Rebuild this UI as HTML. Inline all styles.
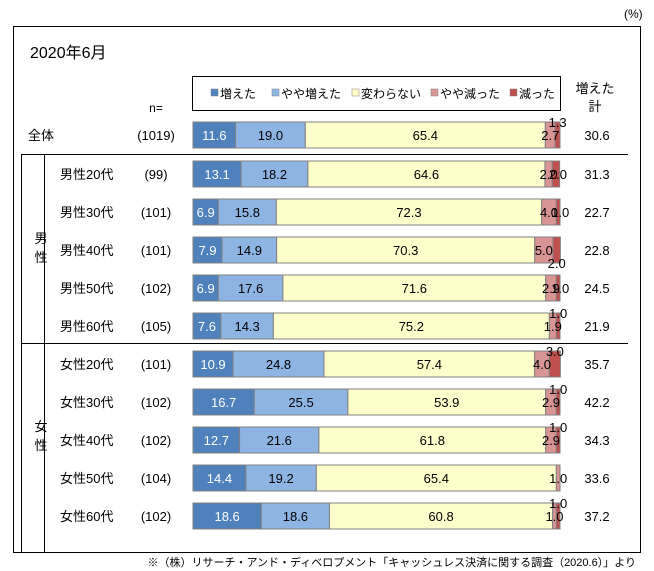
<!DOCTYPE html>
<html><head><meta charset="utf-8">
<style>
html,body{margin:0;padding:0;background:#fff;}
svg{display:block;font-family:"Liberation Sans","Noto Sans CJK JP",sans-serif;}
</style></head>
<body>
<svg id="s" width="654" height="571" xmlns="http://www.w3.org/2000/svg">
<text x="624" y="18" font-size="12" fill="#000">(%)</text>
<rect x="13.5" y="26.5" width="627" height="526" fill="none" stroke="#000" stroke-width="1"/>
<text x="30" y="58" font-size="16" fill="#000">2020年6月</text>
<rect x="192.5" y="76.5" width="368" height="34" fill="none" stroke="#000"/>
<rect x="211" y="89" width="7" height="7" fill="#4f81bd" stroke="#808080" stroke-width="0.5"/>
<text x="220" y="98" font-size="12">増えた</text>
<rect x="272" y="89" width="7" height="7" fill="#8eb4e3" stroke="#808080" stroke-width="0.5"/>
<text x="281" y="98" font-size="12">やや増えた</text>
<rect x="352" y="89" width="7" height="7" fill="#ffffcc" stroke="#808080" stroke-width="0.5"/>
<text x="361" y="98" font-size="12">変わらない</text>
<rect x="431" y="89" width="7" height="7" fill="#d99594" stroke="#808080" stroke-width="0.5"/>
<text x="440" y="98" font-size="12">やや減った</text>
<rect x="510" y="89" width="7" height="7" fill="#c0504d" stroke="#808080" stroke-width="0.5"/>
<text x="519" y="98" font-size="12">減った</text>
<text x="595" y="93" font-size="13" text-anchor="middle">増えた</text>
<text x="595" y="111" font-size="13" text-anchor="middle">計</text>
<text x="156" y="112" font-size="12" text-anchor="middle">n=</text>
<line x1="21" y1="154.5" x2="628" y2="154.5" stroke="#000"/>
<line x1="21" y1="343.5" x2="628" y2="343.5" stroke="#000"/>
<line x1="21.5" y1="154" x2="21.5" y2="552" stroke="#000"/>
<line x1="44.5" y1="154" x2="44.5" y2="552" stroke="#000"/>
<text x="41" y="243" font-size="13" text-anchor="middle">男</text>
<text x="41" y="262" font-size="13" text-anchor="middle">性</text>
<text x="41" y="431" font-size="13" text-anchor="middle">女</text>
<text x="41" y="450" font-size="13" text-anchor="middle">性</text>
<text x="636" y="566" font-size="11" text-anchor="end">※（株）リサーチ・アンド・ディベロプメント「キャッシュレス決済に関する調査（2020.6）」より</text>
</svg>
<script>
var s=document.getElementById('s'),NS='http://www.w3.org/2000/svg';
function el(t,a,txt){var e=document.createElementNS(NS,t);for(var k in a)e.setAttribute(k,a[k]);if(txt!=null)e.textContent=txt;s.appendChild(e);return e;}
var cols=['#4f81bd','#8eb4e3','#ffffcc','#d99594','#c0504d'];
var rows=[
['全体',28,'(1019)',[11.6,19.0,65.4,2.7,1.3],'30.6','up'],
['男性20代',60,'(99)',[13.1,18.2,64.6,2.0,2.0],'31.3','in'],
['男性30代',60,'(101)',[6.9,15.8,72.3,4.0,1.0],'22.7','in'],
['男性40代',60,'(101)',[7.9,14.9,70.3,5.0,2.0],'22.8','down'],
['男性50代',60,'(102)',[6.9,17.6,71.6,2.9,1.0],'24.5','in'],
['男性60代',60,'(105)',[7.6,14.3,75.2,1.9,1.0],'21.9','up'],
['女性20代',60,'(101)',[10.9,24.8,57.4,4.0,3.0],'35.7','up'],
['女性30代',60,'(102)',[16.7,25.5,53.9,2.9,1.0],'42.2','up'],
['女性40代',60,'(102)',[12.7,21.6,61.8,2.9,1.0],'34.3','up'],
['女性50代',60,'(104)',[14.4,19.2,65.4,1.0,0],'33.6','none'],
['女性60代',60,'(102)',[18.6,18.6,60.8,1.0,1.0],'37.2','up']
];
var ys=[135,174,212,250,288,326,364,402,440,478,516];
var X0=193,SC=3.67,H=26;
rows.forEach(function(r,i){
 var cy=ys[i];
 el('text',{x:r[1],y:cy+5,'font-size':13},r[0]);
 el('text',{x:156,y:cy+5,'font-size':13,'text-anchor':'middle'},r[2]);
 el('text',{x:597,y:cy+5,'font-size':13,'text-anchor':'middle'},r[4]);
 var x=X0,mids=[];
 r[3].forEach(function(v,j){
  var w=v*SC;
  if(w>0)el('rect',{x:x,y:cy-H/2,width:w,height:H,fill:cols[j],stroke:'#808080','stroke-width':1});
  mids.push(x+w/2);x+=w;
 });
 for(var j=0;j<3;j++)el('text',{x:mids[j],y:cy+5,'font-size':13,'text-anchor':'middle',fill:j==0?'#fff':'#000'},r[3][j].toFixed(1));
 el('text',{x:mids[3],y:cy+5,'font-size':13,'text-anchor':'middle'},r[3][3].toFixed(1));
 var rp=r[5];
 if(rp=='in')el('text',{x:mids[4]+2,y:cy+5,'font-size':13,'text-anchor':'middle'},r[3][4].toFixed(1));
 if(rp=='up')el('text',{x:mids[4],y:cy-8,'font-size':13,'text-anchor':'middle'},r[3][4].toFixed(1));
 if(rp=='down')el('text',{x:mids[4],y:cy+18,'font-size':13,'text-anchor':'middle'},r[3][4].toFixed(1));
});
</script>
</body></html>
